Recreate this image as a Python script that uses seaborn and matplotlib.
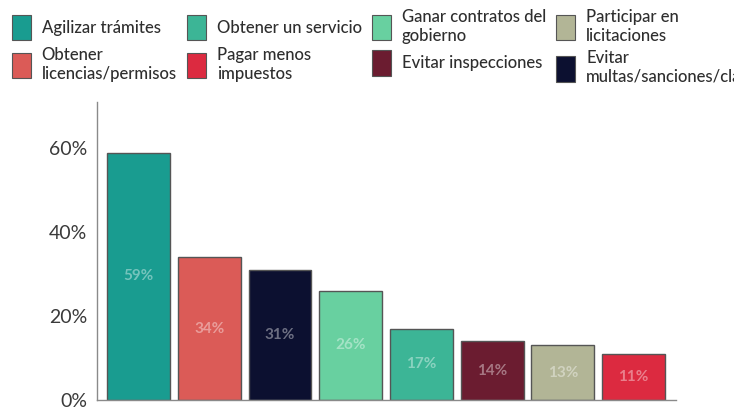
import pandas as pd
import matplotlib.pyplot as plt
import seaborn as sns
from matplotlib.patches import Patch

# Bars, left to right
motivos = [
    "Agilizar trámites",
    "Obtener\nlicencias/permisos",
    "Evitar\nmultas/sanciones/clausuras",
    "Ganar contratos del\ngobierno",
    "Obtener un servicio",
    "Evitar inspecciones",
    "Participar en\nlicitaciones",
    "Pagar menos\nimpuestos",
]
porcentajes = [59, 34, 31, 26, 17, 14, 13, 11]
colores = ["#199c90", "#db5b57", "#0c1030", "#68d0a0",
           "#3cb596", "#6b1c30", "#b2b596", "#dc2a40"]

# legend order (matplotlib fills the columns top to bottom)
orden_leyenda = [0, 1, 4, 7, 3, 5, 6, 2]

df = pd.DataFrame({"motivo": motivos, "pct": porcentajes})
paleta = dict(zip(motivos, colores))

sns.set_style("white")
plt.rcParams["font.family"] = ["Lato", "DejaVu Sans"]

fig = plt.figure(figsize=(7.34, 4.08), dpi=100)
ax = fig.add_axes([0.132, 0.0196, 0.789, 0.73])

sns.barplot(data=df, x="motivo", y="pct", hue="motivo", palette=paleta,
            legend=False, width=0.89, saturation=1, linewidth=1,
            edgecolor="#555555", ax=ax)

# percentage labels inside the bars
for i, v in enumerate(porcentajes):
    ax.text(i, v / 2, f"{v}%", ha="center", va="center", fontsize=11,
            fontweight="bold", color="white", alpha=0.4)

ax.set_ylim(0, 71)
ax.set_xlim(-0.59, 7.6)
ax.set_yticks([0, 20, 40, 60])
ax.set_yticklabels(["0%", "20%", "40%", "60%"], fontsize=14, color="#3a3a3a")
ax.set_xticks([])
ax.set_xlabel("")
ax.set_ylabel("")
ax.tick_params(axis="y", length=0, pad=7)
sns.despine(ax=ax)
for s in ["left", "bottom"]:
    ax.spines[s].set_color("#8a8a8a")
    ax.spines[s].set_linewidth(1)

handles = [Patch(facecolor=colores[i], edgecolor="#555555", linewidth=0.8)
           for i in orden_leyenda]
labels = [motivos[i] for i in orden_leyenda]
fig.legend(handles, labels, loc="upper left", bbox_to_anchor=(0.016, 0.978),
           ncol=4, frameon=False, handlelength=1.15,
           handleheight=2.0, handletextpad=0.65, columnspacing=0.6,
           labelspacing=0.4, borderpad=0, borderaxespad=0,
           labelcolor="#2e2e2e", prop={"weight": "medium", "size": 12})

fig.savefig("out.png", dpi=100)
